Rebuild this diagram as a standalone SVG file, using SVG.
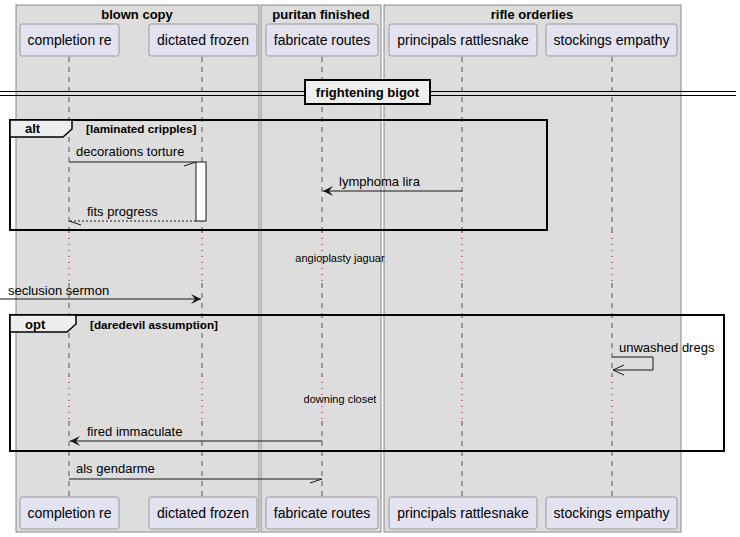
<svg xmlns="http://www.w3.org/2000/svg" width="740" height="537" viewBox="0 0 740 537">
<style>
.grp{fill:#DDDDDD;stroke:#888888;stroke-width:1}
.gt{font-family:"Liberation Sans",Arial,sans-serif;font-size:13px;font-weight:bold;fill:#000;text-anchor:middle}
.pb{fill:#E2E2F0;stroke:#999999;stroke-width:1}
.pt{font-family:"Liberation Sans",Arial,sans-serif;font-size:14px;fill:#000;text-anchor:middle}
.ll{stroke:#555;stroke-width:1;stroke-dasharray:5,5;fill:none}
.dl{stroke:#B00020;stroke-width:1;stroke-dasharray:1,5;fill:none}
.m{font-family:"Liberation Sans",Arial,sans-serif;font-size:13px;fill:#000}
.s{font-family:"Liberation Sans",Arial,sans-serif;font-size:11px;fill:#000;text-anchor:middle}
.ln{stroke:#181818;stroke-width:1;fill:none}
.fr{fill:none;stroke:#000;stroke-width:2}
.tab{fill:#EEEEEE;stroke:#000;stroke-width:1.5}
.ft{font-family:"Liberation Sans",Arial,sans-serif;font-size:13px;font-weight:bold;fill:#000}
.fc{font-family:"Liberation Sans",Arial,sans-serif;font-size:11.7px;font-weight:bold;fill:#000}
</style>
<defs>
<marker id="fa" viewBox="0 0 10 10" refX="10" refY="5" markerWidth="10" markerHeight="10" markerUnits="userSpaceOnUse" orient="auto">
<path d="M0,0 L10,5 L0,10 L4,5 Z" fill="#181818"/>
</marker>
</defs>
<rect width="740" height="537" fill="#FFFFFF"/>
<g id="groups">
<rect class="grp" x="16" y="5" width="243" height="527"/>
<text class="gt" x="137" y="19">blown copy</text>
<rect class="grp" x="261" y="5" width="120" height="527"/>
<text class="gt" x="321" y="19">puritan finished</text>
<rect class="grp" x="384" y="5" width="297" height="527"/>
<text class="gt" x="532" y="19">rifle orderlies</text>
</g>
<g id="lifelines">
<path class="ll" d="M69,57 V232 M69,283 V376 M69,421 V497"/>
<path class="ll" d="M202,57 V232 M202,283 V376 M202,421 V497"/>
<path class="ll" d="M322,57 V232 M322,283 V376 M322,421 V497"/>
<path class="ll" d="M462,57 V232 M462,283 V376 M462,421 V497"/>
<path class="ll" d="M612,57 V232 M612,283 V376 M612,421 V497"/>
<path class="dl" d="M69,232 V283 M202,232 V283 M322,232 V283 M462,232 V283 M612,232 V283"/>
<path class="dl" d="M69,376 V421 M202,376 V421 M322,376 V421 M462,376 V421 M612,376 V421"/>
</g>
<g id="p1"><rect class="pb" x="20" y="24" width="99" height="32" rx="2.5"/><text class="pt" x="69.5" y="45">completion re</text>
<rect class="pb" x="20" y="497" width="99" height="32" rx="2.5"/><text class="pt" x="69.5" y="518">completion re</text></g>
<g id="p2"><rect class="pb" x="149" y="24" width="108" height="32" rx="2.5"/><text class="pt" x="203" y="45">dictated frozen</text>
<rect class="pb" x="149" y="497" width="108" height="32" rx="2.5"/><text class="pt" x="203" y="518">dictated frozen</text></g>
<g id="p3"><rect class="pb" x="266" y="24" width="112" height="32" rx="2.5"/><text class="pt" x="322" y="45">fabricate routes</text>
<rect class="pb" x="266" y="497" width="112" height="32" rx="2.5"/><text class="pt" x="322" y="518">fabricate routes</text></g>
<g id="p4"><rect class="pb" x="389" y="24" width="148" height="32" rx="2.5"/><text class="pt" x="463" y="45">principals rattlesnake</text>
<rect class="pb" x="389" y="497" width="148" height="32" rx="2.5"/><text class="pt" x="463" y="518">principals rattlesnake</text></g>
<g id="p5"><rect class="pb" x="546" y="24" width="131" height="32" rx="2.5"/><text class="pt" x="611.5" y="45">stockings empathy</text>
<rect class="pb" x="546" y="497" width="131" height="32" rx="2.5"/><text class="pt" x="611.5" y="518">stockings empathy</text></g>
<g id="divider">
<path d="M0,91.5 H736 M0,95.5 H736" stroke="#000" stroke-width="1.2" fill="none"/>
<rect x="305" y="80" width="125" height="24" fill="#EEEEEE" stroke="#000" stroke-width="2"/>
<text class="gt" x="367.5" y="97">frightening bigot</text>
</g>
<g id="alt">
<rect class="fr" x="10" y="120" width="537" height="110"/>
<path class="tab" d="M10,120 H72 V129 L63,137 H10 Z"/>
<text class="ft" x="25" y="133">alt</text>
<text class="fc" x="86" y="133">[laminated cripples]</text>
</g>
<g id="activation"><rect x="196" y="162" width="10" height="59" fill="#FFFFFF" stroke="#181818" stroke-width="1"/></g>
<g id="opt">
<rect class="fr" x="10" y="315" width="714" height="136"/>
<path class="tab" d="M10,315 H76 V324 L67,332 H10 Z"/>
<text class="ft" x="25" y="329">opt</text>
<text class="fc" x="90" y="329">[daredevil assumption]</text>
</g>
<g id="connectors">
<path class="ln" d="M69,162 H196 M184,166 L196,162"/>
<text class="m" x="76" y="156">decorations torture</text>
<path class="ln" d="M462,191 H323" marker-end="url(#fa)"/>
<text class="m" x="339" y="186">lymphoma lira</text>
<path class="ln" d="M196,221 H69" stroke-dasharray="2,2"/>
<path class="ln" d="M69,221 L81,225"/>
<text class="m" x="87" y="216">fits progress</text>
<text class="s" x="340" y="262">angioplasty jaguar</text>
<path class="ln" d="M0,299 H201" marker-end="url(#fa)"/>
<text class="m" x="8" y="295">seclusion sermon</text>
<path class="ln" d="M612,357 H653 V370 H613 M624,365 L613,370 L624,375"/>
<text class="m" x="619" y="352">unwashed dregs</text>
<text class="s" x="340" y="403">downing closet</text>
<path class="ln" d="M322,441 H70" marker-end="url(#fa)"/>
<text class="m" x="87" y="436">fired immaculate</text>
<path class="ln" d="M69,479 H322 M310,483 L322,479"/>
<text class="m" x="76" y="473">als gendarme</text>
</g>
</svg>
